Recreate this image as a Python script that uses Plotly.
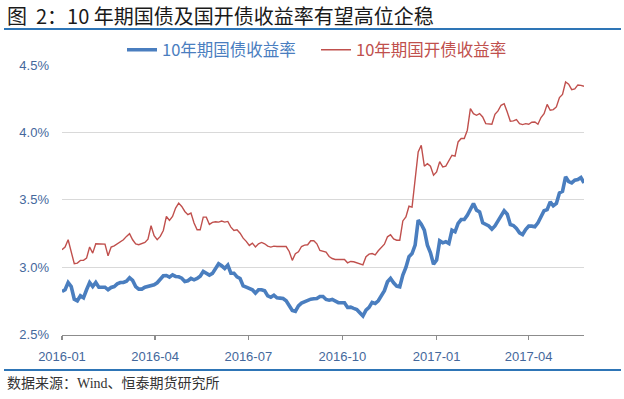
import pandas as pd
import plotly.graph_objects as go

start_date = "2016-01-01"
step = "3D"

gov_10y = [
    2.819, 2.832, 2.886, 2.856, 2.762, 2.750, 2.787, 2.772, 2.832, 2.886,
    2.856, 2.886, 2.851, 2.851, 2.851, 2.832, 2.849, 2.856, 2.876, 2.886,
    2.886, 2.896, 2.921, 2.901, 2.856, 2.837, 2.837, 2.851, 2.856, 2.861,
    2.869, 2.884, 2.911, 2.936, 2.938, 2.926, 2.943, 2.931, 2.928, 2.918,
    2.894, 2.899, 2.916, 2.906, 2.916, 2.933, 2.968, 2.958, 2.941, 2.953,
    2.985, 3.025, 3.010, 2.990, 3.015, 2.955, 2.955, 2.928, 2.916, 2.861,
    2.851, 2.839, 2.832, 2.807, 2.832, 2.832, 2.824, 2.787, 2.777, 2.792,
    2.772, 2.770, 2.767, 2.750, 2.715, 2.678, 2.671, 2.713, 2.733, 2.743,
    2.757, 2.762, 2.765, 2.767, 2.782, 2.782, 2.760, 2.755, 2.760, 2.750,
    2.736, 2.736, 2.736, 2.701, 2.703, 2.694, 2.686, 2.661, 2.637, 2.681,
    2.701, 2.738, 2.731, 2.750, 2.792, 2.825, 2.891, 2.916, 2.884, 2.859,
    2.854, 2.941, 2.998, 3.077, 3.101, 3.163, 3.348, 3.319, 3.274, 3.163,
    3.106, 3.022, 3.052, 3.195, 3.180, 3.188, 3.175, 3.274, 3.262, 3.324,
    3.353, 3.353, 3.385, 3.427, 3.472, 3.423, 3.410, 3.329, 3.316, 3.306,
    3.282, 3.306, 3.343, 3.385, 3.418, 3.393, 3.316, 3.309, 3.287, 3.255,
    3.242, 3.279, 3.304, 3.304, 3.299, 3.329, 3.368, 3.418, 3.427, 3.484,
    3.455, 3.472, 3.551, 3.563, 3.670, 3.635, 3.625, 3.645, 3.650, 3.665,
    3.625,
]

cdb_10y = [
    3.129, 3.149, 3.203, 3.111, 3.025, 3.030, 3.050, 3.050, 3.067, 3.149,
    3.104, 3.173, 3.171, 3.171, 3.171, 3.084, 3.149, 3.158, 3.173, 3.186,
    3.203, 3.228, 3.248, 3.203, 3.173, 3.166, 3.173, 3.183, 3.208, 3.307,
    3.233, 3.203, 3.228, 3.272, 3.376, 3.347, 3.376, 3.438, 3.475, 3.450,
    3.413, 3.389, 3.401, 3.327, 3.277, 3.277, 3.371, 3.371, 3.317, 3.332,
    3.337, 3.334, 3.342, 3.334, 3.339, 3.297, 3.272, 3.277, 3.252, 3.215,
    3.191, 3.161, 3.178, 3.149, 3.173, 3.183, 3.173, 3.156, 3.149, 3.156,
    3.153, 3.153, 3.158, 3.153, 3.116, 3.050, 3.099, 3.114, 3.153, 3.163,
    3.166, 3.196, 3.196, 3.173, 3.124, 3.119, 3.111, 3.079, 3.064, 3.057,
    3.057, 3.052, 3.057, 3.032, 3.042, 3.040, 3.032, 3.022, 3.017, 3.077,
    3.096, 3.101, 3.091, 3.121, 3.146, 3.170, 3.225, 3.240, 3.210, 3.200,
    3.200, 3.343, 3.373, 3.452, 3.445, 3.670, 3.855, 3.904, 3.749, 3.768,
    3.749, 3.682, 3.707, 3.783, 3.744, 3.749, 3.793, 3.830, 3.823, 3.929,
    3.954, 3.954, 4.016, 4.176, 4.139, 4.127, 4.139, 4.114, 4.065, 4.060,
    4.060, 4.134, 4.159, 4.201, 4.213, 4.151, 4.082, 4.085, 4.095, 4.065,
    4.058, 4.065, 4.060, 4.075, 4.077, 4.060, 4.110, 4.139, 4.208, 4.164,
    4.169, 4.189, 4.258, 4.282, 4.374, 4.357, 4.317, 4.322, 4.352, 4.349,
    4.342,
]

series_names = ["10年期国债收益率", "10年期国开债收益率"]
x_tick_vals = ["2016-01-01", "2016-04-01", "2016-07-01", "2016-10-01", "2017-01-01", "2017-04-01"]
x_tick_text = ["2016-01", "2016-04", "2016-07", "2016-10", "2017-01", "2017-04"]
y_tick_vals = [2.5, 3.0, 3.5, 4.0, 4.5]
y_tick_text = ["2.5%", "3.0%", "3.5%", "4.0%", "4.5%"]

title_text = "图  2：10 年期国债及国开债收益率有望高位企稳"
source_text = "数据来源：Wind、恒泰期货研究所"

dates = pd.date_range(start_date, periods=len(gov_10y), freq=step)

BLUE = "#4A7EBF"
RED = "#C0504D"
AXIS_TXT = "#44689C"
RULE = "#2E75B6"
SANS = "Liberation Sans, Arial, Noto Sans CJK SC, sans-serif"
CJK = "Noto Sans CJK SC, sans-serif"

fig = go.Figure()
fig.add_trace(go.Scatter(
    x=dates, y=gov_10y, mode="lines", name=series_names[0],
    line=dict(color=BLUE, width=3.6), legend="legend",
))
fig.add_trace(go.Scatter(
    x=dates, y=cdb_10y, mode="lines", name=series_names[1],
    line=dict(color=RED, width=1.4), legend="legend2",
))

# The paper covers the whole figure (no margins); the plot sits in a sub-domain.
W, H = 624, 399


def fx(x):
    return x / W


def fy(y):
    return 1 - y / H


fig.update_layout(
    width=W, height=H,
    margin=dict(l=0, r=0, t=0, b=0, pad=0),
    paper_bgcolor="white", plot_bgcolor="white",
    showlegend=True,
    legend=dict(
        orientation="h", xref="paper", yref="paper",
        x=fx(122), xanchor="left", y=fy(50), yanchor="middle",
        font=dict(family=CJK, size=16.5, color=BLUE),
        bgcolor="rgba(0,0,0,0)", borderwidth=0,
    ),
    legend2=dict(
        orientation="h", xref="paper", yref="paper",
        x=fx(316), xanchor="left", y=fy(50), yanchor="middle",
        font=dict(family=CJK, size=16.5, color=RED),
        bgcolor="rgba(0,0,0,0)", borderwidth=0,
    ),
    xaxis=dict(
        type="date", domain=[fx(62), fx(584)], automargin=False,
        range=[dates[0], dates[-1]],
        tickmode="array", tickvals=x_tick_vals, ticktext=x_tick_text,
        showgrid=False, zeroline=False,
        showline=True, linecolor="#8C8C8C", linewidth=1.5,
        ticks="outside", ticklen=4, tickcolor="#8C8C8C", tickwidth=1.5,
        tickfont=dict(family=SANS, size=13, color=AXIS_TXT),
        ticklabelstandoff=5,
    ),
    yaxis=dict(
        domain=[fy(334.5), fy(65)], automargin=False,
        range=[2.5, 4.5],
        tickmode="array", tickvals=y_tick_vals, ticktext=y_tick_text,
        showgrid=True, gridcolor="#D9D9D9", gridwidth=1,
        zeroline=False, showline=False, ticks="",
        tickfont=dict(family=SANS, size=13, color=AXIS_TXT),
        ticklabelstandoff=12,
    ),
)

# title and source note
fig.add_annotation(
    text=title_text, xref="paper", yref="paper", showarrow=False,
    x=fx(5), xanchor="left", y=fy(15), yanchor="middle",
    font=dict(family=CJK, size=20, color="#1A1A1A"),
)
fig.add_annotation(
    text=source_text, xref="paper", yref="paper", showarrow=False,
    x=fx(5), xanchor="left", y=fy(383), yanchor="middle",
    font=dict(family="Liberation Serif, Noto Sans CJK SC, serif", size=14, color="#333333"),
)
# blue rules under the title and above the source note
for ypix in (29, 370):
    fig.add_shape(
        type="line", xref="paper", yref="paper", layer="above",
        x0=fx(4), x1=fx(621), y0=fy(ypix), y1=fy(ypix),
        line=dict(color=RULE, width=2),
    )

# remove the browser's default 8px page margin so the figure sits at the window's corner
fig.write_html(
    "out.html",
    config={"displayModeBar": False, "staticPlot": True},
    post_script="document.body.style.margin='0';",
)
